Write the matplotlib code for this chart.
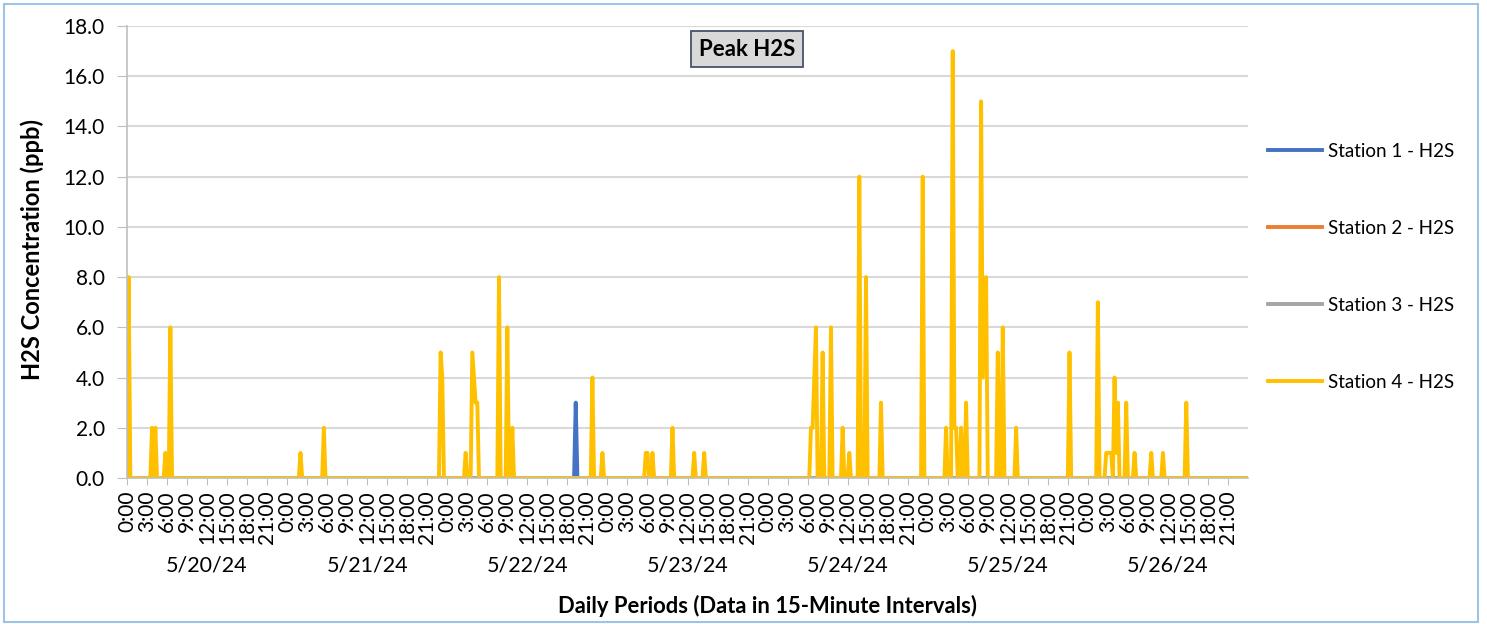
import matplotlib.pyplot as plt
from matplotlib.patches import Rectangle
import numpy as np
import pandas as pd

plt.rcParams['font.family'] = ['Lato', 'DejaVu Sans']

# 15-minute readings, 5/20/24 00:00 .. 5/26/24 23:45 (all other readings are 0.0)
start = pd.Timestamp('2024-05-20 00:00')
n_points = 7 * 96

st1_times = ['2024-05-22 19:15']
st1_vals = [3]

st4_times = ['2024-05-20 00:15', '2024-05-20 03:45', '2024-05-20 04:15', '2024-05-20 05:45',
             '2024-05-20 06:30', '2024-05-21 02:00', '2024-05-21 05:30', '2024-05-21 23:00',
             '2024-05-21 23:15', '2024-05-22 02:45', '2024-05-22 03:45', '2024-05-22 04:00',
             '2024-05-22 04:15', '2024-05-22 04:30', '2024-05-22 07:45', '2024-05-22 09:00',
             '2024-05-22 09:45', '2024-05-22 21:45', '2024-05-22 23:15', '2024-05-23 05:45',
             '2024-05-23 06:00', '2024-05-23 06:45', '2024-05-23 09:45', '2024-05-23 13:00',
             '2024-05-23 14:30', '2024-05-24 06:30', '2024-05-24 06:45', '2024-05-24 07:00',
             '2024-05-24 07:15', '2024-05-24 08:15', '2024-05-24 09:30', '2024-05-24 11:15',
             '2024-05-24 12:15', '2024-05-24 13:45', '2024-05-24 14:45', '2024-05-24 17:00',
             '2024-05-24 23:15', '2024-05-25 02:45', '2024-05-25 03:45', '2024-05-25 04:00',
             '2024-05-25 04:15', '2024-05-25 05:00', '2024-05-25 05:45', '2024-05-25 08:00',
             '2024-05-25 08:15', '2024-05-25 08:30', '2024-05-25 08:45', '2024-05-25 10:30',
             '2024-05-25 11:15', '2024-05-25 13:15', '2024-05-25 21:15', '2024-05-26 01:30',
             '2024-05-26 02:45', '2024-05-26 03:00', '2024-05-26 03:15', '2024-05-26 03:30',
             '2024-05-26 04:00', '2024-05-26 04:15', '2024-05-26 04:30', '2024-05-26 05:45',
             '2024-05-26 07:00', '2024-05-26 09:30', '2024-05-26 11:15', '2024-05-26 14:45']
st4_vals = [8, 2, 2, 1,
            6, 1, 2, 5,
            4, 1, 5, 4,
            3, 3, 8, 6,
            2, 4, 1, 1,
            1, 1, 2, 1,
            1, 2, 2, 4,
            6, 5, 6, 2,
            1, 12, 8, 3,
            12, 2, 17, 2,
            2, 2, 3, 15,
            4, 6, 8, 5,
            6, 2, 5, 7,
            1, 1, 1, 1,
            4, 1, 3, 3,
            1, 1, 1, 3]

days = ['5/20/24', '5/21/24', '5/22/24', '5/23/24', '5/24/24', '5/25/24', '5/26/24']
hour_labels = ['0:00', '3:00', '6:00', '9:00', '12:00', '15:00', '18:00', '21:00']
names = ['Station 1 - H2S', 'Station 2 - H2S', 'Station 3 - H2S', 'Station 4 - H2S']
colors = ['#4472C4', '#ED7D31', '#A5A5A5', '#FFC000']


def build(times, vals):
    s = np.zeros(n_points)
    idx = ((pd.to_datetime(times) - start) / pd.Timedelta(minutes=15)).astype(int)
    s[idx] = vals
    return s


series = [build(st1_times, st1_vals), np.zeros(n_points), np.zeros(n_points),
          build(st4_times, st4_vals)]
x = np.arange(n_points)

fig = plt.figure(figsize=(14.87, 6.24), dpi=100)
ax = fig.add_axes([127 / 1487, 1 - 478 / 624, 1121 / 1487, 452 / 624])

for s, c, name in zip(series, colors, names):
    ax.plot(x, s, color=c, lw=2.8, label=name, solid_joinstyle='round')

ax.set_xlim(0, n_points)
ax.set_ylim(0, 18)
ax.set_yticks(np.arange(0, 18.1, 2))
ax.set_yticklabels(['%.1f' % v for v in np.arange(0, 18.1, 2)], fontsize=15)
ax.grid(axis='y', color='#D9D9D9', lw=1.5)
ax.set_axisbelow(True)

ax.set_xticks(np.arange(0, n_points, 12))
ax.set_xticklabels(hour_labels * len(days), rotation=90, fontsize=15)
ax.tick_params(axis='x', length=5, color='#BFBFBF', pad=4)
ax.tick_params(axis='y', length=7, color='#BFBFBF', pad=9)

for sp in ['top', 'right']:
    ax.spines[sp].set_visible(False)
for sp in ['left', 'bottom']:
    ax.spines[sp].set_color('#BFBFBF')
    ax.spines[sp].set_linewidth(1.2)

# day group labels, centred under each day
for i, d in enumerate(days):
    ax.text(i * 96 + 48, -0.193, d, transform=ax.get_xaxis_transform(),
            ha='center', va='center', fontsize=15.5)

ax.set_xlabel('Daily Periods (Data in 15-Minute Intervals)', fontsize=15.8, fontweight='bold')
ax.xaxis.set_label_coords(0.571, -0.258)
ax.set_ylabel('H2S Concentration (ppb)', fontsize=17, fontweight='bold')
ax.yaxis.set_label_coords(-0.074, 0.505)

ax.text(0.553, 0.949, 'Peak H2S', transform=ax.transAxes, ha='center', va='center',
        fontsize=16, fontweight='bold',
        bbox=dict(boxstyle='square,pad=0.35', fc='#D9D9D9', ec='#44546A', lw=1.3))

fig.legend(loc='center left', bbox_to_anchor=(1268 / 1487, 1 - 267 / 624), frameon=False,
           fontsize=13.5, handlelength=2.9, handletextpad=0.3, labelspacing=3.2,
           borderpad=0, borderaxespad=0)

fig.patches.append(Rectangle((4 / 1487, 2 / 624), 1474 / 1487, 618 / 624,
                             transform=fig.transFigure, fill=False, ec='#9DC3E6', lw=1.5))

fig.savefig('out.png', dpi=100)
